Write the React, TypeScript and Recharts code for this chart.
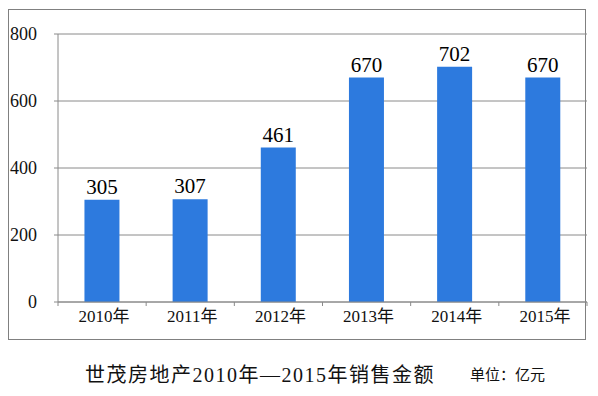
import * as React from "react";
import { BarChart, Bar, XAxis, YAxis, CartesianGrid, LabelList } from "recharts";

const years = ["2010年", "2011年", "2012年", "2013年", "2014年", "2015年"];
const sales = [305, 307, 461, 670, 702, 670];
const yTicks = [0, 200, 400, 600, 800];

const FONT = "Liberation Serif, DejaVu Serif, Noto Sans CJK SC, serif";
const BLUE = "#2d7ade";
const GRID = "#8a8a8a";
const X_LABEL_GAP = 8;

// category label plus a small tick mark on each band edge
const YearTick = (props: any) => {
  const { x, y, payload, index, visibleTicksCount } = props;
  const half = payload.offset || 0;
  const axisY = y - X_LABEL_GAP;
  return (
    <g>
      <line x1={x - half} x2={x - half} y1={axisY} y2={axisY + 4} stroke={GRID} />
      {index === visibleTicksCount - 1 && (
        <line x1={x + half} x2={x + half} y1={axisY} y2={axisY + 4} stroke={GRID} />
      )}
      <text x={x + 2} y={y} dy="0.71em" textAnchor="middle" fill="#111" fontSize={17} fontFamily={FONT}>
        {payload.value}
      </text>
    </g>
  );
};

export default function App() {
  const data = years.map((year, i) => ({ year, value: sales[i] }));

  return (
    <div style={{ position: "absolute", left: 0, top: 0, width: 598, height: 396, background: "#fff", fontFamily: FONT }}>
      {/* frame around the plot */}
      <div
        style={{
          position: "absolute",
          left: 8,
          top: 9,
          width: 578,
          height: 331,
          border: "1px solid #808080",
          boxSizing: "border-box",
        }}
      />
      <div style={{ position: "absolute", left: 0, top: 0 }}>
        <BarChart
          width={598}
          height={396}
          data={data}
          margin={{ top: 34, right: 11, bottom: 64, left: 0 }}
          barCategoryGap="30%"
        >
          <CartesianGrid horizontal vertical={false} stroke={GRID} strokeWidth={1} />
          <XAxis
            dataKey="year"
            interval={0}
            tickLine={false}
            axisLine={{ stroke: GRID }}
            tick={YearTick}
            tickSize={0}
            tickMargin={X_LABEL_GAP}
            height={30}
          />
          <YAxis
            domain={[0, 800]}
            ticks={yTicks}
            width={58}
            axisLine={{ stroke: GRID }}
            tickLine={{ stroke: GRID }}
            tickSize={4}
            tickMargin={17}
            tick={{ fill: "#111", fontSize: 18, fontFamily: FONT }}
          />
          <Bar dataKey="value" fill={BLUE} isAnimationActive={false}>
            <LabelList dataKey="value" position="top" offset={6} fill="#000" fontSize={21} fontFamily={FONT} />
          </Bar>
        </BarChart>
      </div>
      <div
        style={{
          position: "absolute",
          left: 85,
          top: 359,
          fontSize: 20,
          letterSpacing: 1.5,
          color: "#111",
          whiteSpace: "nowrap",
        }}
      >
        世茂房地产2010年—2015年销售金额
      </div>
      <div
        style={{
          position: "absolute",
          left: 470,
          top: 363,
          fontSize: 15,
          color: "#111",
          whiteSpace: "nowrap",
        }}
      >
        单位：亿元
      </div>
    </div>
  );
}
